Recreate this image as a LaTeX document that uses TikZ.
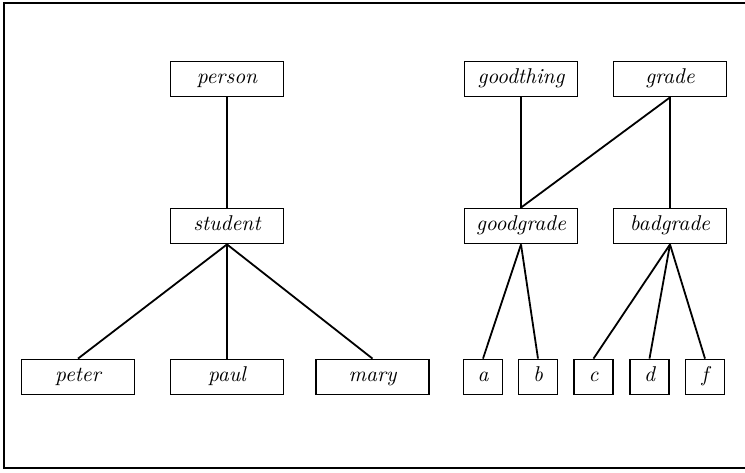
\documentclass[tikz,border=0pt]{standalone}
\begin{document}
\begin{tikzpicture}[x=0.5pt,y=-0.5pt,
  line width=0.9pt,
  box/.style={draw, line width=0.9pt, minimum width=56.5pt, minimum height=17.5pt, inner sep=0pt,
    text height=1.5ex, text depth=0.4ex,
    font=\fontsize{10.7}{12}\selectfont\itshape},
  leaf/.style={box, minimum width=19.5pt},
  edge/.style={line width=0.9pt}]
\useasboundingbox (0,0) rectangle (745,472);
\clip (0,0) rectangle (745,472);
\draw[line width=1.1pt] (760,3) -- (4,3) -- (4,468) -- (760,468);
% nodes
\node[box] (person) at (227,79) {person};
\node[box] (student) at (227,226) {student};
\node[box] (peter) at (78,377) {peter};
\node[box] (paul) at (227,377) {paul};
\node[box] (mary) at (372.5,377) {mary};
\node[box] (goodthing) at (521,79) {goodthing};
\node[box] (grade) at (670,79) {grade};
\node[box] (goodgrade) at (521,226) {goodgrade};
\node[box] (badgrade) at (670,226) {badgrade};
\node[leaf] (a) at (483,377) {a};
\node[leaf] (b) at (538,377) {b};
\node[leaf] (c) at (593.5,377) {c};
\node[leaf] (d) at (649.5,377) {d};
\node[leaf] (f) at (705,377) {f};
% connectors
\draw[edge] (person.south) -- (student.north);
\draw[edge] (student.south) -- (peter.north);
\draw[edge] (student.south) -- (paul.north);
\draw[edge] (student.south) -- (mary.north);
\draw[edge] (goodthing.south) -- (goodgrade.north);
\draw[edge] (grade.south) -- (goodgrade.north);
\draw[edge] (grade.south) -- (badgrade.north);
\draw[edge] (goodgrade.south) -- (a.north);
\draw[edge] (goodgrade.south) -- (b.north);
\draw[edge] (badgrade.south) -- (c.north);
\draw[edge] (badgrade.south) -- (d.north);
\draw[edge] (badgrade.south) -- (f.north);
\end{tikzpicture}
\end{document}
